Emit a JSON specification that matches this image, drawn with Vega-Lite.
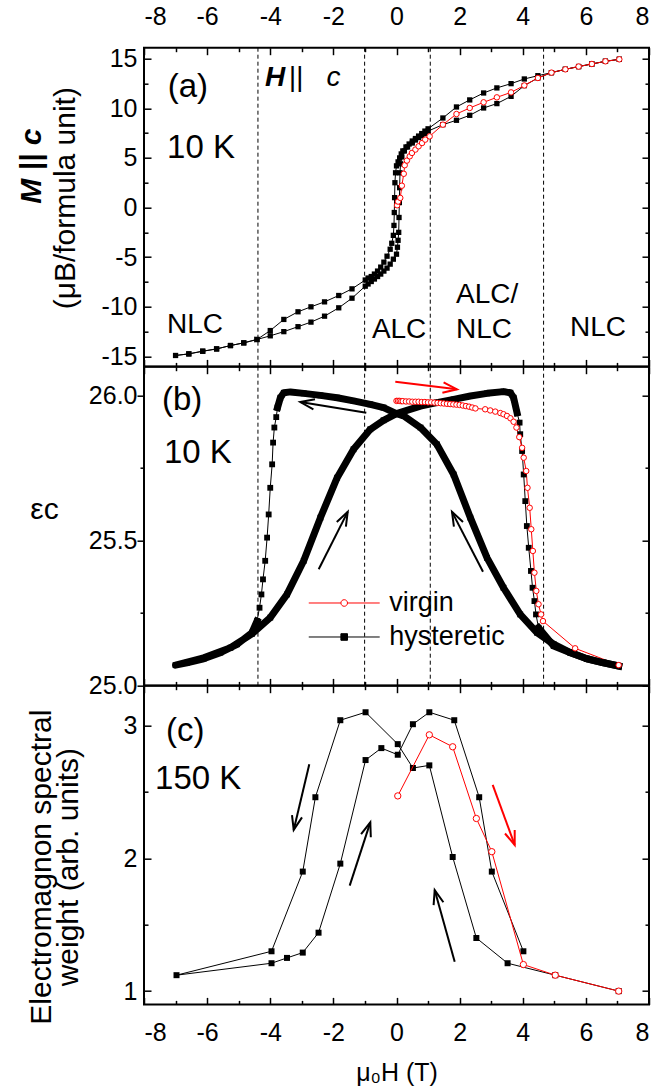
{
  "$schema": "https://vega.github.io/schema/vega-lite/v6.json",
  "autosize": {"type": "pad"},
  "padding": {"left": 15, "top": 3.7, "right": 0, "bottom": 0},
  "bounds": "flush",
  "spacing": 0,
  "background": "white",
  "config": {
    "font": "Liberation Sans",
    "view": {"stroke": "black", "strokeWidth": 2},
    "axis": {"grid": false, "domain": false, "tickColor": "black", "tickWidth": 1.5, "labelFont": "Liberation Sans", "labelFontSize": 25, "labelColor": "black", "titleFont": "Liberation Sans", "titleColor": "black", "titleFontWeight": "normal", "titleFontSize": 30}
  },
  "resolve": {"scale": {"color": "independent", "shape": "independent", "fill": "independent", "stroke": "independent"}, "legend": {"color": "independent", "shape": "independent", "fill": "independent", "stroke": "independent"}},
  "datasets": {
    "vl": [{"H": -4.39}, {"H": -1.01}, {"H": 1.07}, {"H": 4.66}],
    "a_h": [
      {"H": 7.06, "v": 14.93}, {"H": 6.62, "v": 14.73}, {"H": 6.19, "v": 14.46}, {"H": 5.77, "v": 14.2}, {"H": 5.35, "v": 13.92}, {"H": 4.91, "v": 13.59}, {"H": 4.48, "v": 13.28}, {"H": 4.05, "v": 12.95}, {"H": 3.63, "v": 12.48}, {"H": 3.18, "v": 12.05}, {"H": 2.76, "v": 11.54}, {"H": 2.32, "v": 10.84}, {"H": 1.9, "v": 10.13}, {"H": 1.47, "v": 9.02}, {"H": 1.0, "v": 7.93}, {"H": 0.9, "v": 7.7}, {"H": 0.8, "v": 7.45}, {"H": 0.7, "v": 7.2}, {"H": 0.6, "v": 6.95}, {"H": 0.5, "v": 6.7}, {"H": 0.4, "v": 6.4}, {"H": 0.3, "v": 6.1}, {"H": 0.2, "v": 5.7}, {"H": 0.15, "v": 5.4}, {"H": 0.1, "v": 5.0}, {"H": 0.05, "v": 4.6}, {"H": 0.0, "v": 4.2}, {"H": -0.03, "v": 3.5}, {"H": -0.05, "v": 2.5}, {"H": -0.06, "v": 1.0}, {"H": -0.07, "v": -0.5}, {"H": -0.08, "v": -1.8}, {"H": -0.1, "v": -2.8}, {"H": -0.15, "v": -3.6}, {"H": -0.2, "v": -4.2}, {"H": -0.3, "v": -4.9}, {"H": -0.4, "v": -5.5}, {"H": -0.5, "v": -6.0}, {"H": -0.6, "v": -6.4}, {"H": -0.7, "v": -6.7}, {"H": -0.8, "v": -6.95}, {"H": -0.9, "v": -7.1}, {"H": -0.99, "v": -7.3}, {"H": -1.41, "v": -8.19}, {"H": -1.83, "v": -8.86}, {"H": -2.28, "v": -9.5}, {"H": -2.71, "v": -10.0}, {"H": -3.12, "v": -10.5}, {"H": -3.57, "v": -11.27}, {"H": -4.0, "v": -12.39}, {"H": -4.42, "v": -13.29}, {"H": -4.84, "v": -13.63}, {"H": -5.26, "v": -13.9}, {"H": -5.7, "v": -14.24}, {"H": -6.14, "v": -14.47}, {"H": -6.58, "v": -14.74}, {"H": -7.0, "v": -14.9},
      {"H": -6.58, "v": -14.74}, {"H": -6.14, "v": -14.47}, {"H": -5.7, "v": -14.24}, {"H": -5.26, "v": -13.9}, {"H": -4.84, "v": -13.63}, {"H": -4.42, "v": -13.29}, {"H": -4.0, "v": -12.92}, {"H": -3.57, "v": -12.5}, {"H": -3.12, "v": -12.0}, {"H": -2.71, "v": -11.54}, {"H": -2.28, "v": -10.94}, {"H": -1.83, "v": -10.1}, {"H": -1.41, "v": -9.13}, {"H": -0.99, "v": -7.92}, {"H": -0.9, "v": -7.7}, {"H": -0.8, "v": -7.45}, {"H": -0.7, "v": -7.2}, {"H": -0.6, "v": -6.95}, {"H": -0.5, "v": -6.7}, {"H": -0.4, "v": -6.4}, {"H": -0.3, "v": -6.1}, {"H": -0.2, "v": -5.7}, {"H": -0.1, "v": -5.2}, {"H": 0.0, "v": -4.7}, {"H": 0.03, "v": -4.0}, {"H": 0.05, "v": -3.3}, {"H": 0.07, "v": -2.5}, {"H": 0.08, "v": -1.0}, {"H": 0.09, "v": 0.5}, {"H": 0.1, "v": 2.0}, {"H": 0.11, "v": 3.5}, {"H": 0.13, "v": 4.4}, {"H": 0.17, "v": 5.1}, {"H": 0.25, "v": 5.7}, {"H": 0.35, "v": 6.1}, {"H": 0.5, "v": 6.5}, {"H": 0.6, "v": 6.8}, {"H": 0.7, "v": 7.05}, {"H": 0.8, "v": 7.25}, {"H": 0.9, "v": 7.45}, {"H": 1.0, "v": 7.7}, {"H": 1.47, "v": 8.35}, {"H": 1.9, "v": 8.79}, {"H": 2.32, "v": 9.29}, {"H": 2.76, "v": 10.03}, {"H": 3.18, "v": 10.47}, {"H": 3.63, "v": 11.2}, {"H": 4.05, "v": 12.28}, {"H": 4.48, "v": 13.05}, {"H": 4.91, "v": 13.59}, {"H": 5.35, "v": 13.92}, {"H": 5.77, "v": 14.2}, {"H": 6.19, "v": 14.46}, {"H": 6.62, "v": 14.73}, {"H": 7.06, "v": 14.93}
    ],
    "a_v": [
      {"H": 0.02, "v": 0.23}, {"H": 0.05, "v": 0.6}, {"H": 0.12, "v": 0.97}, {"H": 0.17, "v": 2.2}, {"H": 0.23, "v": 3.4}, {"H": 0.26, "v": 4.26}, {"H": 0.33, "v": 4.73}, {"H": 0.42, "v": 5.16}, {"H": 0.49, "v": 5.5}, {"H": 0.6, "v": 5.84}, {"H": 0.7, "v": 6.17}, {"H": 0.81, "v": 6.5}, {"H": 0.91, "v": 6.84}, {"H": 1.05, "v": 7.17}, {"H": 1.47, "v": 8.35}, {"H": 1.9, "v": 9.42}, {"H": 2.32, "v": 10.03}, {"H": 2.76, "v": 10.6}, {"H": 3.18, "v": 11.1}, {"H": 3.63, "v": 11.6}, {"H": 4.05, "v": 12.3}, {"H": 4.48, "v": 13.05}, {"H": 4.91, "v": 13.59}, {"H": 5.35, "v": 13.92}, {"H": 5.77, "v": 14.2}, {"H": 6.19, "v": 14.46}, {"H": 6.62, "v": 14.73}, {"H": 7.06, "v": 14.93}
    ],
    "a_big": [{"H": -7.25, "v": 11.1, "t": "(a)"}, {"H": -7.27, "v": 4.96, "t": "10 K"}],
    "a_mid": [{"H": -7.27, "v": -12.66, "t": "NLC"}, {"H": -0.78, "v": -13.16, "t": "ALC"}, {"H": 1.885, "v": -9.64, "t": "ALC/"}, {"H": 1.885, "v": -13.16, "t": "NLC"}, {"H": 5.5, "v": -12.96, "t": "NLC"}],
    "a_H": [{"H": -4.17, "v": 12.2, "t": "H"}],
    "a_par": [{"H": -3.42, "v": 12.2, "t": "||\u00a0\u00a0\u00a0c"}],
    "b": [
      {"H": 7.04, "v": 25.067, "s": "hysteretic", "run": "d1"}, {"H": 6.56, "v": 25.078, "s": "hysteretic", "run": "d1"}, {"H": 6.03, "v": 25.092, "s": "hysteretic", "run": "d1"}, {"H": 5.51, "v": 25.113, "s": "hysteretic", "run": "d1"}, {"H": 4.98, "v": 25.142, "s": "hysteretic", "run": "d1"}, {"H": 4.45, "v": 25.182, "s": "hysteretic", "run": "d1"}, {"H": 3.92, "v": 25.245, "s": "hysteretic", "run": "d1"}, {"H": 3.39, "v": 25.337, "s": "hysteretic", "run": "d1"}, {"H": 2.87, "v": 25.44, "s": "hysteretic", "run": "d1"}, {"H": 2.34, "v": 25.579, "s": "hysteretic", "run": "d1"}, {"H": 1.81, "v": 25.728, "s": "hysteretic", "run": "d1"}, {"H": 1.28, "v": 25.832, "s": "hysteretic", "run": "d1"}, {"H": 0.76, "v": 25.89, "s": "hysteretic", "run": "d1"}, {"H": 0.23, "v": 25.93, "s": "hysteretic", "run": "d1"}, {"H": 0.0, "v": 25.938, "s": "hysteretic", "run": "d1"}, {"H": -0.41, "v": 25.959, "s": "hysteretic", "run": "d1"}, {"H": -0.83, "v": 25.97, "s": "hysteretic", "run": "d1"}, {"H": -1.36, "v": 25.982, "s": "hysteretic", "run": "d1"}, {"H": -1.88, "v": 25.993, "s": "hysteretic", "run": "d1"}, {"H": -2.41, "v": 26.001, "s": "hysteretic", "run": "d1"}, {"H": -2.94, "v": 26.008, "s": "hysteretic", "run": "d1"}, {"H": -3.36, "v": 26.013, "s": "hysteretic", "run": "d1"}, {"H": -3.57, "v": 26.01, "s": "hysteretic", "run": "d1"}, {"H": -3.68, "v": 25.993, "s": "hysteretic", "run": "d1"}, {"H": -3.77, "v": 25.959, "s": "hysteretic", "run": "d1"},
      {"H": -3.81, "v": 25.926, "s": "hysteretic"}, {"H": -3.87, "v": 25.89, "s": "hysteretic"}, {"H": -3.91, "v": 25.838, "s": "hysteretic"}, {"H": -3.94, "v": 25.763, "s": "hysteretic"}, {"H": -4.0, "v": 25.682, "s": "hysteretic"}, {"H": -4.05, "v": 25.59, "s": "hysteretic"}, {"H": -4.1, "v": 25.51, "s": "hysteretic"}, {"H": -4.16, "v": 25.43, "s": "hysteretic"}, {"H": -4.23, "v": 25.366, "s": "hysteretic"}, {"H": -4.28, "v": 25.314, "s": "hysteretic"}, {"H": -4.34, "v": 25.268, "s": "hysteretic"},
      {"H": -4.42, "v": 25.222, "s": "hysteretic", "run": "d2"}, {"H": -4.58, "v": 25.182, "s": "hysteretic", "run": "d2"}, {"H": -5.05, "v": 25.142, "s": "hysteretic", "run": "d2"}, {"H": -5.58, "v": 25.113, "s": "hysteretic", "run": "d2"}, {"H": -6.11, "v": 25.092, "s": "hysteretic", "run": "d2"}, {"H": -6.64, "v": 25.078, "s": "hysteretic", "run": "d2"}, {"H": -7.0, "v": 25.07, "s": "hysteretic", "run": "d2"}, {"H": -6.11, "v": 25.095, "s": "hysteretic", "run": "d2"}, {"H": -5.26, "v": 25.13, "s": "hysteretic", "run": "d2"}, {"H": -4.58, "v": 25.178, "s": "hysteretic", "run": "d2"}, {"H": -4.0, "v": 25.234, "s": "hysteretic", "run": "d2"}, {"H": -3.47, "v": 25.314, "s": "hysteretic", "run": "d2"}, {"H": -2.94, "v": 25.43, "s": "hysteretic", "run": "d2"}, {"H": -2.41, "v": 25.579, "s": "hysteretic", "run": "d2"}, {"H": -1.88, "v": 25.717, "s": "hysteretic", "run": "d2"}, {"H": -1.36, "v": 25.815, "s": "hysteretic", "run": "d2"}, {"H": -0.83, "v": 25.884, "s": "hysteretic", "run": "d2"}, {"H": -0.41, "v": 25.915, "s": "hysteretic", "run": "d2"}, {"H": 0.0, "v": 25.938, "s": "hysteretic", "run": "d2"}, {"H": 0.76, "v": 25.964, "s": "hysteretic", "run": "d2"}, {"H": 1.28, "v": 25.976, "s": "hysteretic", "run": "d2"}, {"H": 1.81, "v": 25.987, "s": "hysteretic", "run": "d2"}, {"H": 2.34, "v": 25.999, "s": "hysteretic", "run": "d2"}, {"H": 2.87, "v": 26.008, "s": "hysteretic", "run": "d2"}, {"H": 3.39, "v": 26.014, "s": "hysteretic", "run": "d2"}, {"H": 3.61, "v": 26.01, "s": "hysteretic", "run": "d2"}, {"H": 3.71, "v": 25.993, "s": "hysteretic", "run": "d2"}, {"H": 3.82, "v": 25.941, "s": "hysteretic", "run": "d2"},
      {"H": 3.9, "v": 25.907, "s": "hysteretic"}, {"H": 3.92, "v": 25.867, "s": "hysteretic"}, {"H": 3.98, "v": 25.809, "s": "hysteretic"}, {"H": 4.03, "v": 25.728, "s": "hysteretic"}, {"H": 4.08, "v": 25.636, "s": "hysteretic"}, {"H": 4.13, "v": 25.55, "s": "hysteretic"}, {"H": 4.19, "v": 25.475, "s": "hysteretic"}, {"H": 4.26, "v": 25.395, "s": "hysteretic"}, {"H": 4.31, "v": 25.337, "s": "hysteretic"}, {"H": 4.37, "v": 25.291, "s": "hysteretic"}, {"H": 4.42, "v": 25.245, "s": "hysteretic"},
      {"H": 4.5, "v": 25.199, "s": "hysteretic", "run": "d3"}, {"H": 4.98, "v": 25.136, "s": "hysteretic", "run": "d3"}, {"H": 5.51, "v": 25.113, "s": "hysteretic", "run": "d3"}, {"H": 6.03, "v": 25.092, "s": "hysteretic", "run": "d3"}, {"H": 6.56, "v": 25.078, "s": "hysteretic", "run": "d3"}, {"H": 7.04, "v": 25.067, "s": "hysteretic", "run": "d3"},
      {"H": 0.0, "v": 25.982, "s": "virgin"}, {"H": 0.05, "v": 25.982, "s": "virgin"}, {"H": 0.1, "v": 25.982, "s": "virgin"}, {"H": 0.15, "v": 25.981, "s": "virgin"}, {"H": 0.2, "v": 25.981, "s": "virgin"}, {"H": 0.3, "v": 25.98, "s": "virgin"}, {"H": 0.4, "v": 25.98, "s": "virgin"}, {"H": 0.5, "v": 25.979, "s": "virgin"}, {"H": 0.6, "v": 25.979, "s": "virgin"}, {"H": 0.7, "v": 25.979, "s": "virgin"}, {"H": 0.8, "v": 25.978, "s": "virgin"}, {"H": 0.9, "v": 25.978, "s": "virgin"}, {"H": 1.0, "v": 25.977, "s": "virgin"}, {"H": 1.1, "v": 25.977, "s": "virgin"}, {"H": 1.2, "v": 25.976, "s": "virgin"}, {"H": 1.3, "v": 25.975, "s": "virgin"}, {"H": 1.4, "v": 25.974, "s": "virgin"}, {"H": 1.5, "v": 25.973, "s": "virgin"}, {"H": 1.6, "v": 25.972, "s": "virgin"}, {"H": 1.7, "v": 25.971, "s": "virgin"}, {"H": 1.8, "v": 25.97, "s": "virgin"}, {"H": 1.9, "v": 25.969, "s": "virgin"}, {"H": 2.0, "v": 25.968, "s": "virgin"}, {"H": 2.1, "v": 25.966, "s": "virgin"}, {"H": 2.2, "v": 25.964, "s": "virgin"}, {"H": 2.3, "v": 25.962, "s": "virgin"}, {"H": 2.4, "v": 25.959, "s": "virgin"}, {"H": 2.5, "v": 25.956, "s": "virgin"},
      {"H": 2.81, "v": 25.953, "s": "virgin"}, {"H": 2.97, "v": 25.949, "s": "virgin"}, {"H": 3.13, "v": 25.945, "s": "virgin"}, {"H": 3.29, "v": 25.94, "s": "virgin"}, {"H": 3.39, "v": 25.936, "s": "virgin"}, {"H": 3.5, "v": 25.93, "s": "virgin"}, {"H": 3.61, "v": 25.922, "s": "virgin"}, {"H": 3.71, "v": 25.91, "s": "virgin"}, {"H": 3.8, "v": 25.89, "s": "virgin"}, {"H": 3.89, "v": 25.857, "s": "virgin"}, {"H": 3.98, "v": 25.82, "s": "virgin"}, {"H": 4.03, "v": 25.786, "s": "virgin"}, {"H": 4.11, "v": 25.74, "s": "virgin"}, {"H": 4.15, "v": 25.682, "s": "virgin"}, {"H": 4.22, "v": 25.613, "s": "virgin"}, {"H": 4.27, "v": 25.539, "s": "virgin"}, {"H": 4.32, "v": 25.464, "s": "virgin"}, {"H": 4.37, "v": 25.389, "s": "virgin"}, {"H": 4.43, "v": 25.326, "s": "virgin"}, {"H": 4.5, "v": 25.28, "s": "virgin"}, {"H": 4.58, "v": 25.245, "s": "virgin"}, {"H": 4.64, "v": 25.222, "s": "virgin"}, {"H": 5.66, "v": 25.128, "s": "virgin"}, {"H": 7.04, "v": 25.07, "s": "virgin"}
    ],
    "b_big": [{"H": -7.43, "v": 25.951, "t": "(b)"}, {"H": -7.37, "v": 25.768, "t": "10 K"}],
    "b_arr": [
      {"id": "A", "p": "s", "c": "k", "H": -0.957, "v": 25.941}, {"id": "A", "p": "s", "c": "k", "H": -3.048, "v": 25.978},
      {"id": "A", "p": "h", "c": "k", "H": -2.633, "v": 25.953}, {"id": "A", "p": "h", "c": "k", "H": -3.048, "v": 25.978}, {"id": "A", "p": "h", "c": "k", "H": -2.582, "v": 25.988},
      {"id": "B", "p": "s", "c": "r", "H": -0.038, "v": 26.048}, {"id": "B", "p": "s", "c": "r", "H": 1.917, "v": 26.022},
      {"id": "B", "p": "h", "c": "r", "H": 1.492, "v": 26.046}, {"id": "B", "p": "h", "c": "r", "H": 1.917, "v": 26.022}, {"id": "B", "p": "h", "c": "r", "H": 1.454, "v": 26.01},
      {"id": "C", "p": "s", "c": "k", "H": -2.465, "v": 25.401}, {"id": "C", "p": "s", "c": "k", "H": -1.546, "v": 25.599},
      {"id": "C", "p": "h", "c": "k", "H": -1.892, "v": 25.564}, {"id": "C", "p": "h", "c": "k", "H": -1.546, "v": 25.599}, {"id": "C", "p": "h", "c": "k", "H": -1.603, "v": 25.548},
      {"id": "D", "p": "s", "c": "k", "H": 2.741, "v": 25.392}, {"id": "D", "p": "s", "c": "k", "H": 1.759, "v": 25.599},
      {"id": "D", "p": "h", "c": "k", "H": 1.819, "v": 25.548}, {"id": "D", "p": "h", "c": "k", "H": 1.759, "v": 25.599}, {"id": "D", "p": "h", "c": "k", "H": 2.107, "v": 25.564}
    ],
    "c_h": [
      {"H": 7.04, "v": 1.0}, {"H": 5.03, "v": 1.12}, {"H": 3.52, "v": 1.21}, {"H": 2.53, "v": 1.4}, {"H": 1.78, "v": 2.01}, {"H": 1.04, "v": 2.7}, {"H": 0.52, "v": 2.68}, {"H": 0.04, "v": 2.86}, {"H": -0.98, "v": 3.1}, {"H": -1.78, "v": 3.04}, {"H": -2.57, "v": 2.46}, {"H": -2.97, "v": 1.9}, {"H": -3.96, "v": 1.3}, {"H": -6.97, "v": 1.12},
      {"H": -3.96, "v": 1.21}, {"H": -3.47, "v": 1.25}, {"H": -2.97, "v": 1.29}, {"H": -2.47, "v": 1.44}, {"H": -1.78, "v": 1.96}, {"H": -0.98, "v": 2.74}, {"H": -0.48, "v": 2.83}, {"H": 0.04, "v": 2.78}, {"H": 0.52, "v": 3.01}, {"H": 1.04, "v": 3.1}, {"H": 1.83, "v": 3.04}, {"H": 2.62, "v": 2.46}, {"H": 3.02, "v": 1.9}, {"H": 4.02, "v": 1.3}
    ],
    "c_v": [
      {"H": 0.04, "v": 2.47}, {"H": 1.04, "v": 2.93}, {"H": 1.78, "v": 2.84}, {"H": 2.53, "v": 2.3}, {"H": 3.02, "v": 2.05}, {"H": 4.02, "v": 1.2}, {"H": 5.03, "v": 1.12}, {"H": 7.04, "v": 1.0}
    ],
    "c_big": [{"H": -7.3, "v": 2.887, "t": "(c)"}, {"H": -7.65, "v": 2.525, "t": "150 K"}],
    "c_arr": [
      {"id": "1", "p": "s", "c": "k", "H": -2.763, "v": 2.708}, {"id": "1", "p": "s", "c": "k", "H": -3.257, "v": 2.214},
      {"id": "1", "p": "h", "c": "k", "H": -2.994, "v": 2.308}, {"id": "1", "p": "h", "c": "k", "H": -3.257, "v": 2.214}, {"id": "1", "p": "h", "c": "k", "H": -3.311, "v": 2.326},
      {"id": "2", "p": "s", "c": "k", "H": -1.483, "v": 1.794}, {"id": "2", "p": "s", "c": "k", "H": -0.83, "v": 2.271},
      {"id": "2", "p": "h", "c": "k", "H": -1.122, "v": 2.182}, {"id": "2", "p": "h", "c": "k", "H": -0.83, "v": 2.271}, {"id": "2", "p": "h", "c": "k", "H": -0.814, "v": 2.158},
      {"id": "3", "p": "s", "c": "k", "H": 1.844, "v": 1.221}, {"id": "3", "p": "s", "c": "k", "H": 1.21, "v": 1.761},
      {"id": "3", "p": "h", "c": "k", "H": 1.176, "v": 1.648}, {"id": "3", "p": "h", "c": "k", "H": 1.21, "v": 1.761}, {"id": "3", "p": "h", "c": "k", "H": 1.486, "v": 1.669},
      {"id": "4", "p": "s", "c": "r", "H": 3.048, "v": 2.553}, {"id": "4", "p": "s", "c": "r", "H": 3.745, "v": 2.101},
      {"id": "4", "p": "h", "c": "r", "H": 3.745, "v": 2.214}, {"id": "4", "p": "h", "c": "r", "H": 3.745, "v": 2.101}, {"id": "4", "p": "h", "c": "r", "H": 3.438, "v": 2.187}
    ]
  },
  "vconcat": [
    {
      "width": 505, "height": 318.7,
      "resolve": {"axis": {"x": "independent", "y": "independent"}},
      "layer": [
        {
          "data": {"name": "vl"},
          "mark": {"type": "rule", "strokeDash": [4, 3], "strokeWidth": 1, "color": "black"},
          "encoding": {"x": {"field": "H", "type": "quantitative", "scale": {"domain": [-8, 8], "nice": false, "zero": false}, "axis": null}}
        },
        {
          "data": {"name": "a_h"},
          "mark": {"type": "line", "color": "black", "strokeWidth": 1},
          "encoding": {
            "x": {"field": "H", "type": "quantitative", "scale": {"domain": [-8, 8], "nice": false, "zero": false},
              "axis": {"orient": "bottom", "values": [-8,-7,-6,-5,-4,-3,-2,-1,0,1,2,3,4,5,6,7,8], "labels": false, "title": null, "tickSize": {"condition": {"test": "datum.value % 2 == 0", "value": -7}, "value": -4}}},
            "y": {"field": "v", "type": "quantitative", "scale": {"domain": [-16, 16.1], "nice": false, "zero": false},
              "axis": {"orient": "left", "values": [-15,-12.5,-10,-7.5,-5,-2.5,0,2.5,5,7.5,10,12.5,15], "labelExpr": "datum.value % 5 == 0 ? '' + datum.value : ''", "tickSize": {"condition": {"test": "datum.value % 5 == 0", "value": -7}, "value": -4}, "labelPadding": 14, "title": "(μB/formula unit)", "titleX": -79, "titleY": 150, "titleAngle": -90, "titleBaseline": "middle", "titleAlign": "center"}},
            "order": {"value": null}
          }
        },
        {
          "data": {"name": "a_h"},
          "mark": {"type": "point", "shape": "square", "filled": true, "color": "black", "size": 28, "opacity": 1},
          "encoding": {
            "x": {"field": "H", "type": "quantitative", "scale": {"domain": [-8, 8], "nice": false, "zero": false},
              "axis": {"orient": "top", "values": [-8,-7,-6,-5,-4,-3,-2,-1,0,1,2,3,4,5,6,7,8], "labelExpr": "datum.value % 2 == 0 ? '' + datum.value : ''", "labelPadding": 25, "title": null, "tickSize": {"condition": {"test": "datum.value % 2 == 0", "value": -7}, "value": -4}}},
            "y": {"field": "v", "type": "quantitative", "scale": {"domain": [-16, 16.1], "nice": false, "zero": false},
              "axis": {"orient": "right", "values": [-15,-12.5,-10,-7.5,-5,-2.5,0,2.5,5,7.5,10,12.5,15], "labels": false, "tickSize": {"condition": {"test": "datum.value % 5 == 0", "value": -7}, "value": -4}, "title": "M || c", "titleFontStyle": "italic", "titleFontWeight": "bold", "titleX": -618, "titleY": 118, "titleAngle": -90, "titleBaseline": "middle", "titleAlign": "center"}}
          }
        },
        {
          "data": {"name": "a_v"},
          "mark": {"type": "line", "color": "red", "strokeWidth": 1},
          "encoding": {
            "x": {"field": "H", "type": "quantitative", "scale": {"domain": [-8, 8], "nice": false, "zero": false}, "axis": null},
            "y": {"field": "v", "type": "quantitative", "scale": {"domain": [-16, 16.1], "nice": false, "zero": false}, "axis": null},
            "order": {"value": null}
          }
        },
        {
          "data": {"name": "a_v"},
          "mark": {"type": "point", "shape": "circle", "filled": true, "fill": "white", "stroke": "red", "strokeWidth": 1, "size": 30, "opacity": 1},
          "encoding": {
            "x": {"field": "H", "type": "quantitative", "scale": {"domain": [-8, 8], "nice": false, "zero": false}, "axis": null},
            "y": {"field": "v", "type": "quantitative", "scale": {"domain": [-16, 16.1], "nice": false, "zero": false}, "axis": null}
          }
        },
        {
          "data": {"name": "a_big"},
          "mark": {"type": "text", "align": "left", "baseline": "alphabetic", "fontSize": 33, "color": "black"},
          "encoding": {
            "x": {"field": "H", "type": "quantitative", "scale": {"domain": [-8, 8], "nice": false, "zero": false}, "axis": null},
            "y": {"field": "v", "type": "quantitative", "scale": {"domain": [-16, 16.1], "nice": false, "zero": false}, "axis": null},
            "text": {"field": "t"}
          }
        },
        {
          "data": {"name": "a_mid"},
          "mark": {"type": "text", "align": "left", "baseline": "alphabetic", "fontSize": 28, "color": "black"},
          "encoding": {
            "x": {"field": "H", "type": "quantitative", "scale": {"domain": [-8, 8], "nice": false, "zero": false}, "axis": null},
            "y": {"field": "v", "type": "quantitative", "scale": {"domain": [-16, 16.1], "nice": false, "zero": false}, "axis": null},
            "text": {"field": "t"}
          }
        },
        {
          "data": {"name": "a_H"},
          "mark": {"type": "text", "align": "left", "baseline": "alphabetic", "fontSize": 28, "fontStyle": "italic", "fontWeight": "bold", "color": "black"},
          "encoding": {
            "x": {"field": "H", "type": "quantitative", "scale": {"domain": [-8, 8], "nice": false, "zero": false}, "axis": null},
            "y": {"field": "v", "type": "quantitative", "scale": {"domain": [-16, 16.1], "nice": false, "zero": false}, "axis": null},
            "text": {"field": "t"}
          }
        },
        {
          "data": {"name": "a_par"},
          "mark": {"type": "text", "align": "left", "baseline": "alphabetic", "fontSize": 28, "fontStyle": "italic", "color": "black"},
          "encoding": {
            "x": {"field": "H", "type": "quantitative", "scale": {"domain": [-8, 8], "nice": false, "zero": false}, "axis": null},
            "y": {"field": "v", "type": "quantitative", "scale": {"domain": [-16, 16.1], "nice": false, "zero": false}, "axis": null},
            "text": {"field": "t"}
          }
        }
      ]
    },
    {
      "width": 505, "height": 318.7,
      "resolve": {"axis": {"x": "independent", "y": "independent"}},
      "layer": [
        {
          "data": {"name": "vl"},
          "mark": {"type": "rule", "strokeDash": [4, 3], "strokeWidth": 1, "color": "black"},
          "encoding": {"x": {"field": "H", "type": "quantitative", "scale": {"domain": [-8, 8], "nice": false, "zero": false}, "axis": null}}
        },
        {
          "data": {"name": "b"},
          "transform": [{"filter": "datum.s == 'hysteretic'"}],
          "mark": {"type": "line", "color": "black", "strokeWidth": 1},
          "encoding": {
            "x": {"field": "H", "type": "quantitative", "scale": {"domain": [-8, 8], "nice": false, "zero": false},
              "axis": {"orient": "bottom", "values": [-8,-7,-6,-5,-4,-3,-2,-1,0,1,2,3,4,5,6,7,8], "labels": false, "title": null, "tickSize": {"condition": {"test": "datum.value % 2 == 0", "value": -7}, "value": -4}}},
            "y": {"field": "v", "type": "quantitative", "scale": {"domain": [25.0, 26.1], "nice": false, "zero": false},
              "axis": {"orient": "left", "values": [25, 25.25, 25.5, 25.75, 26], "labelExpr": "(datum.value * 2) % 1 == 0 ? format(datum.value, '.1f') : ''", "tickSize": {"condition": {"test": "(datum.value * 2) % 1 == 0", "value": 7}, "value": 4}, "labelPadding": 0, "title": "εc", "titleX": -100, "titleY": 143, "titleAngle": 0, "titleBaseline": "middle", "titleAlign": "center"}},
            "order": {"value": null}
          }
        },
        {
          "data": {"name": "b"},
          "transform": [{"filter": "datum.s == 'virgin'"}],
          "mark": {"type": "line", "color": "red", "strokeWidth": 1},
          "encoding": {
            "x": {"field": "H", "type": "quantitative", "scale": {"domain": [-8, 8], "nice": false, "zero": false}, "axis": null},
            "y": {"field": "v", "type": "quantitative", "scale": {"domain": [25.0, 26.1], "nice": false, "zero": false}, "axis": null},
            "order": {"value": null}
          }
        },
        {
          "data": {"name": "b"},
          "transform": [{"filter": "isValid(datum.run)"}],
          "mark": {"type": "line", "color": "black", "strokeWidth": 7, "strokeJoin": "round", "strokeCap": "square"},
          "encoding": {
            "x": {"field": "H", "type": "quantitative", "scale": {"domain": [-8, 8], "nice": false, "zero": false}, "axis": null},
            "y": {"field": "v", "type": "quantitative", "scale": {"domain": [25.0, 26.1], "nice": false, "zero": false}, "axis": null},
            "detail": {"field": "run"},
            "order": {"value": null}
          }
        },
        {
          "data": {"name": "b"},
          "transform": [{"filter": "datum.s == 'hysteretic'"}],
          "mark": {"type": "point", "shape": "square", "filled": true, "color": "black", "size": 34, "opacity": 1},
          "encoding": {
            "x": {"field": "H", "type": "quantitative", "scale": {"domain": [-8, 8], "nice": false, "zero": false},
              "axis": {"orient": "top", "values": [-8,-7,-6,-5,-4,-3,-2,-1,0,1,2,3,4,5,6,7,8], "labels": false, "title": null, "tickSize": {"condition": {"test": "datum.value % 2 == 0", "value": -7}, "value": -4}}},
            "y": {"field": "v", "type": "quantitative", "scale": {"domain": [25.0, 26.1], "nice": false, "zero": false},
              "axis": {"orient": "right", "values": [25, 25.25, 25.5, 25.75, 26], "labels": false, "title": null, "tickSize": {"condition": {"test": "(datum.value * 2) % 1 == 0", "value": -7}, "value": -4}}}
          }
        },
        {
          "data": {"name": "b"},
          "transform": [{"filter": "datum.s == 'virgin'"}],
          "mark": {"type": "point", "shape": "circle", "filled": true, "fill": "white", "stroke": "red", "strokeWidth": 1, "size": 30, "opacity": 1},
          "encoding": {
            "x": {"field": "H", "type": "quantitative", "scale": {"domain": [-8, 8], "nice": false, "zero": false}, "axis": null},
            "y": {"field": "v", "type": "quantitative", "scale": {"domain": [25.0, 26.1], "nice": false, "zero": false}, "axis": null}
          }
        },
        {
          "data": {"name": "b"},
          "transform": [{"filter": "datum.s == 'legendonly'"}],
          "mark": {"type": "point", "filled": true, "size": 5041, "strokeWidth": 1, "opacity": 1},
          "encoding": {
            "x": {"field": "H", "type": "quantitative", "scale": {"domain": [-8, 8], "nice": false, "zero": false}, "axis": null},
            "y": {"field": "v", "type": "quantitative", "scale": {"domain": [25.0, 26.1], "nice": false, "zero": false}, "axis": null},
            "shape": {"field": "s", "type": "nominal", "scale": {"domain": ["virgin", "hysteretic"], "range": ["M-1,0H-0.093M0.093,0H1M0.093,0A0.093,0.093,0,1,1,-0.093,0A0.093,0.093,0,1,1,0.093,0Z", "M-1,0H1M-0.093,-0.093H0.093V0.093H-0.093Z"]},
              "legend": {"orient": "none", "legendX": 164.2, "legendY": 219.3, "title": null, "padding": 0, "symbolSize": 5041, "symbolStrokeWidth": 1, "clipHeight": 34, "rowPadding": 0, "labelFontSize": 27, "labelOffset": 9, "labelColor": "black", "labelFont": "Liberation Sans"}},
            "fill": {"field": "s", "type": "nominal", "scale": {"domain": ["virgin", "hysteretic"], "range": ["white", "black"]},
              "legend": {"orient": "none", "legendX": 164.2, "legendY": 219.3, "title": null, "padding": 0, "symbolSize": 5041, "symbolStrokeWidth": 1, "clipHeight": 34, "rowPadding": 0, "labelFontSize": 27, "labelOffset": 9, "labelColor": "black", "labelFont": "Liberation Sans"}},
            "stroke": {"field": "s", "type": "nominal", "scale": {"domain": ["virgin", "hysteretic"], "range": ["red", "black"]},
              "legend": {"orient": "none", "legendX": 164.2, "legendY": 219.3, "title": null, "padding": 0, "symbolSize": 5041, "symbolStrokeWidth": 1, "clipHeight": 34, "rowPadding": 0, "labelFontSize": 27, "labelOffset": 9, "labelColor": "black", "labelFont": "Liberation Sans"}}
          }
        },
        {
          "data": {"name": "b_arr"},
          "mark": {"type": "line", "strokeWidth": 2, "strokeJoin": "miter"},
          "encoding": {
            "x": {"field": "H", "type": "quantitative", "scale": {"domain": [-8, 8], "nice": false, "zero": false}, "axis": null},
            "y": {"field": "v", "type": "quantitative", "scale": {"domain": [25.0, 26.1], "nice": false, "zero": false}, "axis": null},
            "color": {"field": "c", "type": "nominal", "scale": {"domain": ["k", "r"], "range": ["black", "red"]}, "legend": null},
            "detail": [{"field": "id"}, {"field": "p"}],
            "order": {"value": null}
          }
        },
        {
          "data": {"name": "b_big"},
          "mark": {"type": "text", "align": "left", "baseline": "alphabetic", "fontSize": 33, "color": "black"},
          "encoding": {
            "x": {"field": "H", "type": "quantitative", "scale": {"domain": [-8, 8], "nice": false, "zero": false}, "axis": null},
            "y": {"field": "v", "type": "quantitative", "scale": {"domain": [25.0, 26.1], "nice": false, "zero": false}, "axis": null},
            "text": {"field": "t"}
          }
        }
      ]
    },
    {
      "width": 505, "height": 318.7,
      "resolve": {"axis": {"x": "independent", "y": "independent"}},
      "layer": [
        {
          "data": {"name": "c_h"},
          "mark": {"type": "line", "color": "black", "strokeWidth": 1},
          "encoding": {
            "x": {"field": "H", "type": "quantitative", "scale": {"domain": [-8, 8], "nice": false, "zero": false},
              "axis": {"orient": "bottom", "values": [-8,-7,-6,-5,-4,-3,-2,-1,0,1,2,3,4,5,6,7,8], "labelExpr": "datum.value % 2 == 0 ? '' + datum.value : ''", "labelPadding": 23, "tickSize": {"condition": {"test": "datum.value % 2 == 0", "value": -7}, "value": -4}, "title": "μ₀H (T)", "titleFontSize": 25, "titlePadding": 15}},
            "y": {"field": "v", "type": "quantitative", "scale": {"domain": [0.9, 3.3], "nice": false, "zero": false},
              "axis": {"orient": "left", "values": [1, 1.5, 2, 2.5, 3], "labelExpr": "datum.value % 1 == 0 ? '' + datum.value : ''", "tickSize": {"condition": {"test": "datum.value % 1 == 0", "value": -7}, "value": -4}, "labelPadding": 14, "title": ["Electromagnon spectral", "weight (arb. units)"], "titleLineHeight": 28, "titleX": -103, "titleY": 181, "titleAngle": -90, "titleBaseline": "middle", "titleAlign": "center"}},
            "order": {"value": null}
          }
        },
        {
          "data": {"name": "c_h"},
          "mark": {"type": "point", "shape": "square", "filled": true, "color": "black", "size": 36, "opacity": 1},
          "encoding": {
            "x": {"field": "H", "type": "quantitative", "scale": {"domain": [-8, 8], "nice": false, "zero": false},
              "axis": {"orient": "top", "values": [-8,-7,-6,-5,-4,-3,-2,-1,0,1,2,3,4,5,6,7,8], "labels": false, "title": null, "tickSize": {"condition": {"test": "datum.value % 2 == 0", "value": -7}, "value": -4}}},
            "y": {"field": "v", "type": "quantitative", "scale": {"domain": [0.9, 3.3], "nice": false, "zero": false},
              "axis": {"orient": "right", "values": [1, 1.5, 2, 2.5, 3], "labels": false, "title": null, "tickSize": {"condition": {"test": "datum.value % 1 == 0", "value": -7}, "value": -4}}}
          }
        },
        {
          "data": {"name": "c_v"},
          "mark": {"type": "line", "color": "red", "strokeWidth": 1},
          "encoding": {
            "x": {"field": "H", "type": "quantitative", "scale": {"domain": [-8, 8], "nice": false, "zero": false}, "axis": null},
            "y": {"field": "v", "type": "quantitative", "scale": {"domain": [0.9, 3.3], "nice": false, "zero": false}, "axis": null},
            "order": {"value": null}
          }
        },
        {
          "data": {"name": "c_v"},
          "mark": {"type": "point", "shape": "circle", "filled": true, "fill": "white", "stroke": "red", "strokeWidth": 1, "size": 40, "opacity": 1},
          "encoding": {
            "x": {"field": "H", "type": "quantitative", "scale": {"domain": [-8, 8], "nice": false, "zero": false}, "axis": null},
            "y": {"field": "v", "type": "quantitative", "scale": {"domain": [0.9, 3.3], "nice": false, "zero": false}, "axis": null}
          }
        },
        {
          "data": {"name": "c_arr"},
          "mark": {"type": "line", "strokeWidth": 2, "strokeJoin": "miter"},
          "encoding": {
            "x": {"field": "H", "type": "quantitative", "scale": {"domain": [-8, 8], "nice": false, "zero": false}, "axis": null},
            "y": {"field": "v", "type": "quantitative", "scale": {"domain": [0.9, 3.3], "nice": false, "zero": false}, "axis": null},
            "color": {"field": "c", "type": "nominal", "scale": {"domain": ["k", "r"], "range": ["black", "red"]}, "legend": null},
            "detail": [{"field": "id"}, {"field": "p"}],
            "order": {"value": null}
          }
        },
        {
          "data": {"name": "c_big"},
          "mark": {"type": "text", "align": "left", "baseline": "alphabetic", "fontSize": 33, "color": "black"},
          "encoding": {
            "x": {"field": "H", "type": "quantitative", "scale": {"domain": [-8, 8], "nice": false, "zero": false}, "axis": null},
            "y": {"field": "v", "type": "quantitative", "scale": {"domain": [0.9, 3.3], "nice": false, "zero": false}, "axis": null},
            "text": {"field": "t"}
          }
        }
      ]
    }
  ]
}
